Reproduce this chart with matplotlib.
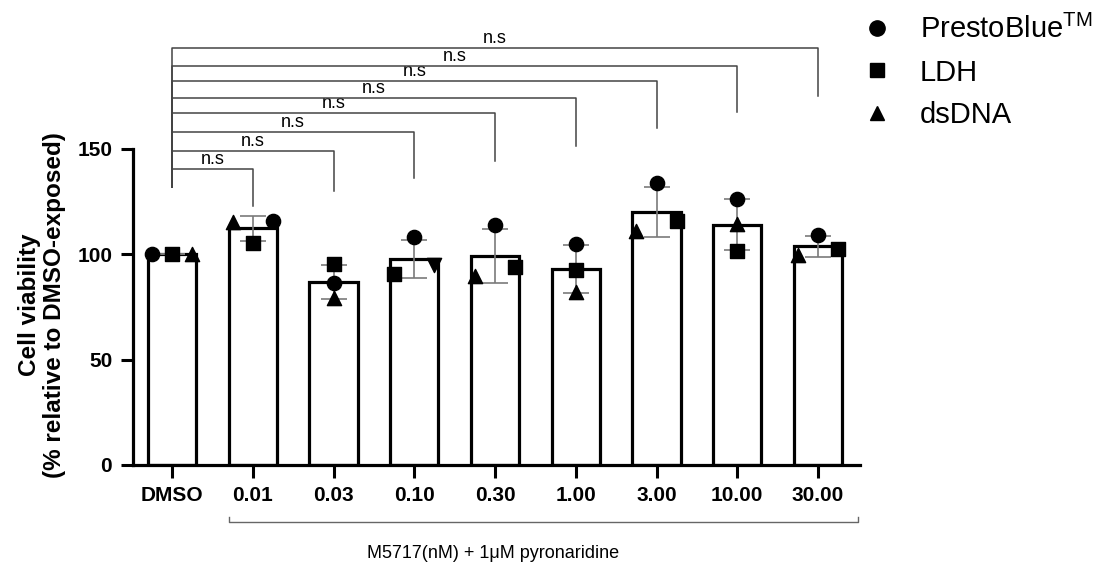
import numpy as np
import matplotlib
matplotlib.use("Agg")
import matplotlib.pyplot as plt
from matplotlib.lines import Line2D
import matplotlib.transforms as mtransforms

plt.rcParams['font.family'] = ['Liberation Sans', 'DejaVu Sans']
plt.rcParams['mathtext.fontset'] = 'custom'
plt.rcParams['mathtext.rm'] = 'Liberation Sans'

# --------------------------------------------------------------------------------
# data
# --------------------------------------------------------------------------------
groups = ['DMSO', '0.01', '0.03', '0.10', '0.30', '1.00', '3.00', '10.00', '30.00']
presto = [100.0, 116.0, 86.2, 108.0, 114.0, 104.7, 133.7, 126.1, 109.3]
ldh    = [100.0, 105.5, 95.2, 90.6, 94.1, 92.5, 116.0, 101.7, 102.4]
dsdna  = [100.0, 115.5, 79.1, 94.9, 89.9, 82.0, 111.2, 114.4, 99.7]

# horizontal placement of the replicate symbols (-1 left, 0 centre, 1 right)
presto_pos = [-1, 1, 0, 0, 0, 0, 0, 0, 0]
ldh_pos    = [0, 0, 0, -1, 1, 0, 1, 0, 1]
dsdna_pos  = [1, -1, 0, 1, -1, 0, -1, 0, -1]
dsdna_mk   = ['^', '^', '^', 'v', '^', '^', '^', '^', '^']

# significance brackets vs DMSO: bar height and drop of the right leg
sig_top  = [140.5, 148.9, 157.9, 167.1, 174.0, 182.1, 189.2, 197.8]
sig_drop = [122.9, 130.2, 136.1, 144.4, 151.5, 160.1, 167.4, 175.1]
sig_text = ['n.s'] * 8

# --------------------------------------------------------------------------------

vals = np.array([presto, ldh, dsdna])
means = vals.mean(axis=0)
sds = vals.std(axis=0, ddof=1)
x = np.arange(len(groups))
jit = 0.25

fig = plt.figure(figsize=(10.93, 5.74), dpi=100)
ax = fig.add_axes([133 / 1093, 109 / 574, 727 / 1093, 316 / 574])

ax.bar(x, means, width=0.6, color='white', edgecolor='black', linewidth=2.3, zorder=1)
ax.errorbar(x, means, yerr=sds, fmt='none', ecolor='#7a7a7a', elinewidth=1.2,
            capsize=9.5, capthick=1.2, zorder=2)

ax.scatter(x + jit * np.array(presto_pos), presto, marker='o', s=105, color='black', zorder=3)
ax.scatter(x + jit * np.array(ldh_pos), ldh, marker='s', s=95, color='black', zorder=3)
for xi, yi, pi, mk in zip(x, dsdna, dsdna_pos, dsdna_mk):
    ax.scatter(xi + jit * pi, yi, marker=mk, s=105, color='black', zorder=3)

ax.set_xlim(-0.483, 8.52)
ax.set_ylim(0, 150)
ax.set_yticks([0, 50, 100, 150])
ax.set_xticks(x)
ax.set_xticklabels(groups)
for lab in ax.get_xticklabels() + ax.get_yticklabels():
    lab.set_fontweight('bold')
    lab.set_fontsize(15)
ax.tick_params(axis='both', direction='out', length=9, width=2.2, pad=6)
for s in ['top', 'right']:
    ax.spines[s].set_visible(False)
for s in ['left', 'bottom']:
    ax.spines[s].set_linewidth(2.3)

# brackets
for i, (top, drop, txt) in enumerate(zip(sig_top, sig_drop, sig_text), start=1):
    ax.plot([0, 0, i, i], [132, top, top, drop], color='#444444', lw=1.1,
            clip_on=False, zorder=4)
    ax.text(i / 2, top + 0.6, txt, ha='center', va='bottom', fontsize=13,
            family=['Liberation Sans Narrow', 'Liberation Sans'], clip_on=False)

# group bracket under the concentrations
trans = mtransforms.blended_transform_factory(ax.transData, ax.transAxes)
ax.plot([0.7, 0.7, 8.5, 8.5], [-0.166, -0.179, -0.179, -0.166], color='#666666',
        lw=1.0, transform=trans, clip_on=False)

fig.text(493 / 1093, 1 - 553 / 574, 'M5717(nM) + 1\u03bcM pyronaridine', ha='center',
         va='center', fontsize=13)
fig.text(42 / 1093, 1 - 305 / 574, 'Cell viability\n(% relative to DMSO-exposed)',
         rotation=90, ha='center', va='center', fontsize=17.5, fontweight='bold',
         multialignment='center', linespacing=1.15)

handles = [
    Line2D([], [], marker='o', ls='none', color='black', markersize=11),
    Line2D([], [], marker='s', ls='none', color='black', markersize=10),
    Line2D([], [], marker='^', ls='none', color='black', markersize=10.5),
]
ax.legend(handles, [r'PrestoBlue$^{\mathrm{TM}}$', 'LDH', 'dsDNA'], loc='upper left',
          bbox_to_anchor=(0.768, 1.02), bbox_transform=fig.transFigure, frameon=False,
          fontsize=21, handlelength=0.8, handletextpad=1.05, labelspacing=0.5)

fig.savefig('out.png', dpi=100)
plt.close()
